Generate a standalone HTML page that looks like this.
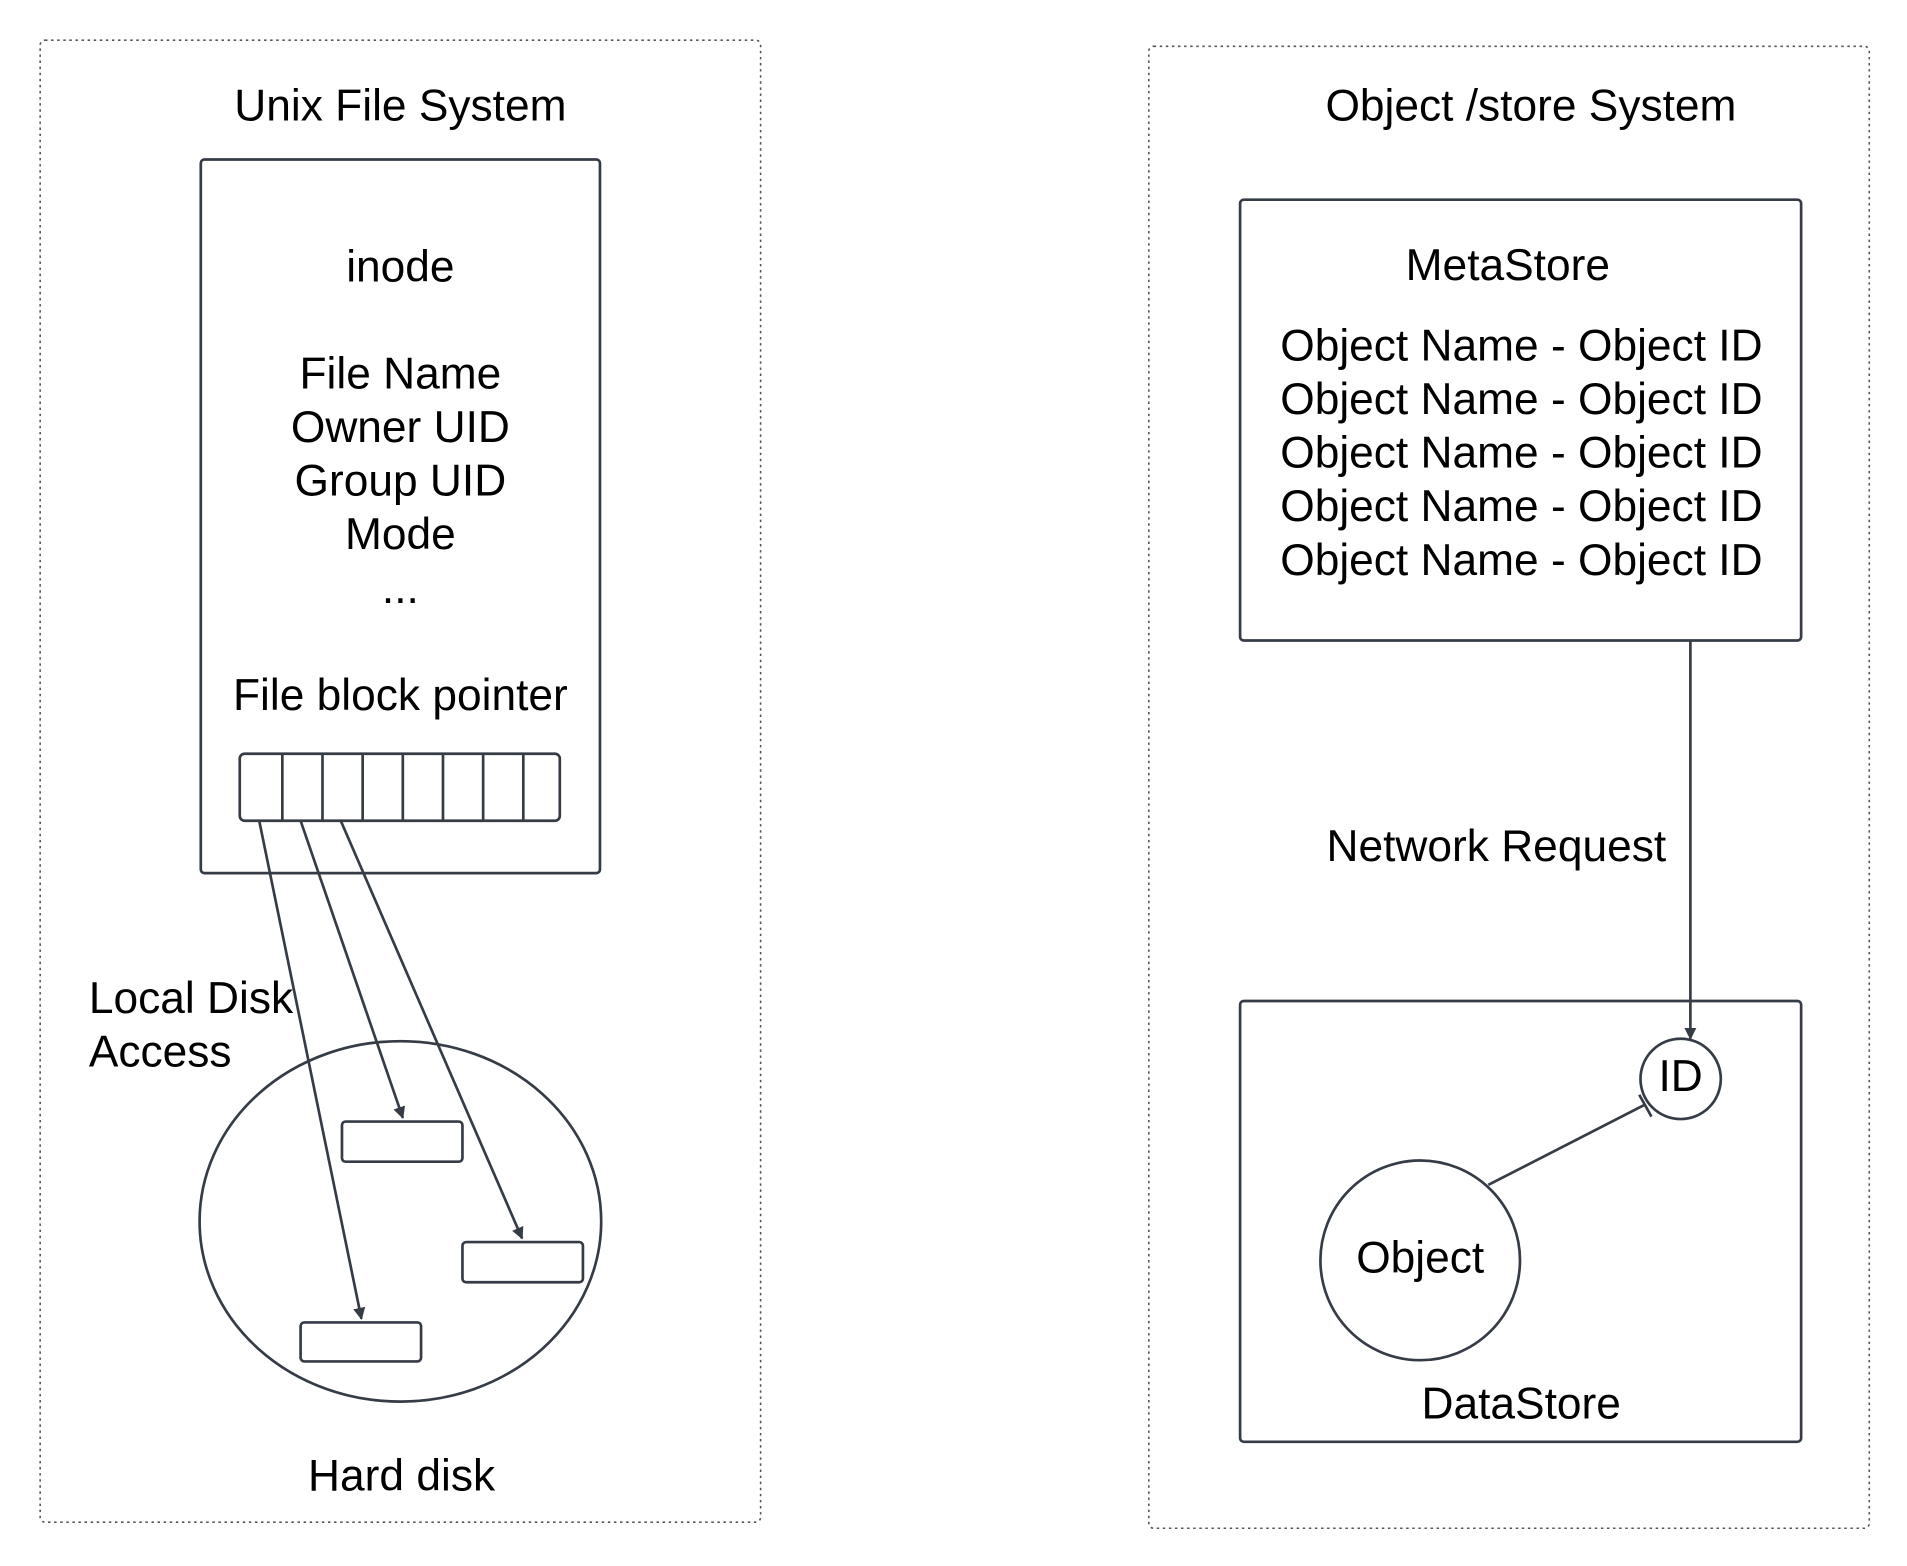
<!DOCTYPE html>
<html><head><style>html,body{margin:0;padding:0;background:#fff}svg{display:block}</style></head>
<body>
<svg width="1907" height="1566" viewBox="0 0 1567 1286" preserveAspectRatio="none" xmlns="http://www.w3.org/2000/svg" font-family="Liberation Sans, Arial, sans-serif" font-size="36.4" fill="#000">
<defs>
<marker id="a" markerWidth="10" markerHeight="10" refX="9" refY="5" orient="auto" markerUnits="userSpaceOnUse" viewBox="0 0 10 10"><path d="M0,0 L10,5 L0,10 z" fill="#363c46"/></marker>
</defs>
<g fill="none" stroke="#555" stroke-width="1.3" stroke-dasharray="2,3">
<rect x="33" y="33" width="592" height="1217" rx="4"/>
<rect x="944" y="38" width="592" height="1217" rx="4"/>
</g>
<g fill="none" stroke="#363c46" stroke-width="2.2">
<rect x="165" y="131" width="328" height="586" rx="3"/>
<rect x="197" y="619" width="263" height="55" rx="4"/>
<path d="M232,619V674M265,619V674M298,619V674M331,619V674M364,619V674M397,619V674M430,619V674"/>
<ellipse cx="329" cy="1003" rx="165" ry="148"/>
<rect x="281" y="921" width="99" height="33" rx="3"/>
<rect x="380" y="1020" width="99" height="33" rx="3"/>
<rect x="247" y="1086" width="99" height="32" rx="3"/>
<line x1="213" y1="674" x2="297" y2="1083" marker-end="url(#a)"/>
<line x1="247" y1="674" x2="331" y2="918" marker-end="url(#a)"/>
<line x1="280" y1="674" x2="429" y2="1017" marker-end="url(#a)"/>
<rect x="1019" y="164" width="461" height="362" rx="3"/>
<rect x="1019" y="822" width="461" height="362" rx="3"/>
<line x1="1389" y1="526" x2="1389" y2="853" marker-end="url(#a)"/>
<circle cx="1381" cy="886" r="33"/>
<circle cx="1167" cy="1035" r="82"/>
<line x1="1223" y1="973" x2="1352" y2="907"/>
<path d="M1347,899 L1357,917"/>
</g>
<g text-anchor="middle">
<text x="329" y="99">Unix File System</text>
<text x="1258" y="99">Object /store System</text>
<text x="329" y="231">inode</text>
<text x="329" y="319">File Name</text>
<text x="329" y="363">Owner UID</text>
<text x="329" y="407">Group UID</text>
<text x="329" y="451">Mode</text>
<text x="329" y="495">...</text>
<text x="329" y="583">File block pointer</text>
<text x="330" y="1224">Hard disk</text>
<text x="1239" y="230">MetaStore</text>
<text x="1381" y="896">ID</text>
<text x="1167" y="1045">Object</text>
<text x="1250" y="1165">DataStore</text>
</g>
<text x="73" y="832">Local Disk</text>
<text x="73" y="876">Access</text>
<text x="1090" y="707">Network Request</text>
<g>
<text x="1052" y="296">Object Name - Object ID</text>
<text x="1052" y="340">Object Name - Object ID</text>
<text x="1052" y="384">Object Name - Object ID</text>
<text x="1052" y="428">Object Name - Object ID</text>
<text x="1052" y="472">Object Name - Object ID</text>
</g>
</svg>
</body></html>
